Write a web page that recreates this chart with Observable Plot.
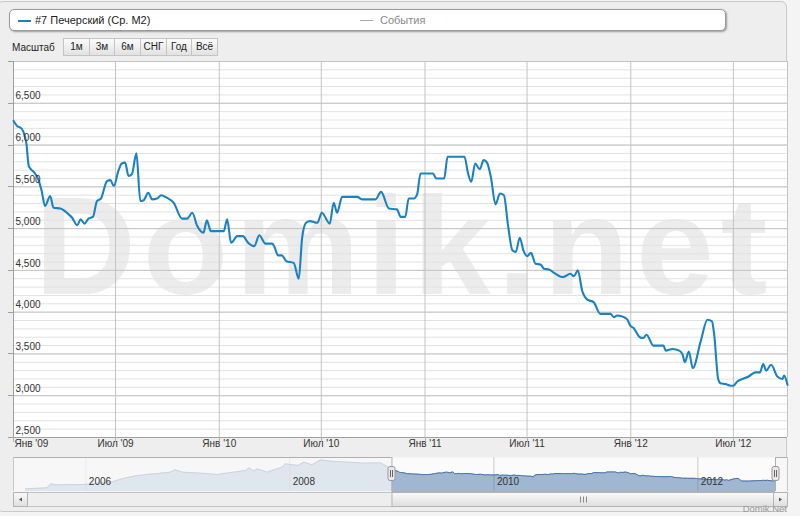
<!DOCTYPE html>
<html>
<head>
<meta charset="utf-8">
<script src="https://cdn.jsdelivr.net/npm/d3@7"></script>
<script src="https://cdn.jsdelivr.net/npm/@observablehq/plot@0.6"></script>
<style>
  html, body { margin: 0; padding: 0; background: #f4f4f4; }
  #wrap { position: relative; width: 800px; height: 516px; overflow: hidden; background: #f4f4f4;
          font-family: "Liberation Sans", Arial, sans-serif; color: #333; }
  #panel { position: absolute; left: -3px; top: 1px; width: 790px; height: 511px; background: #eeeeee;
           border: 1px solid #c9c9c9; border-radius: 6px; box-sizing: border-box; }
  #legend { position: absolute; left: 9px; top: 9px; width: 717px; height: 22px; background: #fff;
            border: 1px solid #9a9a9a; border-radius: 5px; box-sizing: border-box;
            box-shadow: 1px 1px 2px rgba(0,0,0,0.35); font-size: 11px; }
  .lg { position: absolute; top: 4px; white-space: nowrap; }
  .dash { position: absolute; top: 10px; height: 2px; }
  #zoomlbl { position: absolute; left: 12px; top: 42px; font-size: 10px; color: #222; }
  #buttons { position: absolute; left: 64px; top: 38px; display: flex; }
  .btn { height: 18px; box-sizing: border-box; border: 1px solid #c4c4c4; margin-left: -1px;
         background: linear-gradient(#fbfbfb, #e2e2e2); font-size: 10px; line-height: 16px;
         text-align: center; color: #222; }
  .abs { position: absolute; left: 0; }
  #credit { position: absolute; right: 13px; top: 503px; font-size: 9.5px; color: #9a9a9a; }
</style>
</head>
<body>
<div id="wrap">
  <div id="panel"></div>
  <div id="legend"></div>
  <div id="zoomlbl"></div>
  <div id="buttons"></div>
  <div id="main" class="abs" style="top:58px"></div>
  <div id="nav" class="abs" style="top:457px"></div>
  <div id="scroll" class="abs" style="top:491px"></div>
  <div id="credit">Domik.Net</div>
</div>
<script>
// ---------- data ----------
const seriesName = "#7 Печерский (Ср. М2)";
const eventsName = "События";
const zoomLabel = "Масштаб";
const zoomButtons = ["1м", "3м", "6м", "СНГ", "Год", "Всё"];
const watermark = "Domik.net";

const mainDates = [
"2009-01-01","2009-01-07","2009-01-15","2009-01-19","2009-01-24","2009-01-28","2009-02-01","2009-02-07","2009-02-14","2009-02-20",
"2009-02-26","2009-03-07","2009-03-13","2009-03-25","2009-04-09","2009-04-15","2009-04-24","2009-04-30","2009-05-07","2009-05-14",
"2009-05-22","2009-05-29","2009-06-05","2009-06-16","2009-06-22","2009-06-28","2009-07-06","2009-07-12","2009-07-18","2009-07-24",
"2009-07-30","2009-08-07","2009-08-14","2009-08-20","2009-08-28","2009-09-04","2009-09-13","2009-09-20","2009-09-30","2009-10-12",
"2009-10-27","2009-11-05","2009-11-14","2009-11-23","2009-12-04","2009-12-10","2009-12-17","2010-01-09","2010-01-15","2010-01-22",
"2010-02-02","2010-02-12","2010-02-20","2010-03-04","2010-03-13","2010-03-24","2010-04-05","2010-04-09","2010-04-15","2010-04-22",
"2010-04-30","2010-05-13","2010-05-22","2010-05-28","2010-06-04","2010-06-11","2010-06-24","2010-07-02","2010-07-16","2010-07-23",
"2010-07-29","2010-08-07","2010-09-03","2010-09-11","2010-10-05","2010-10-15","2010-10-29","2010-11-12","2010-11-19","2010-11-27",
"2010-12-03","2010-12-12","2010-12-18","2010-12-24","2011-01-15","2011-01-21","2011-02-04","2011-02-10","2011-03-12","2011-03-18",
"2011-03-24","2011-03-31","2011-04-08","2011-04-15","2011-04-21","2011-04-28","2011-05-06","2011-05-14","2011-05-21","2011-05-28",
"2011-06-05","2011-06-11","2011-06-18","2011-06-25","2011-07-01","2011-07-08","2011-07-16","2011-07-25","2011-07-31","2011-08-09",
"2011-08-18","2011-09-03","2011-09-16","2011-09-22","2011-09-29","2011-10-07","2011-10-16","2011-10-27","2011-11-08","2011-11-26",
"2011-12-02","2011-12-08","2011-12-20","2011-12-26","2011-12-31","2012-01-06","2012-01-17","2012-01-23","2012-01-29","2012-02-10",
"2012-02-28","2012-03-03","2012-03-15","2012-03-27","2012-04-02","2012-04-06","2012-04-13","2012-04-20","2012-05-04","2012-05-16",
"2012-05-24","2012-05-28","2012-06-04","2012-06-08","2012-06-17","2012-06-26","2012-07-01","2012-07-08","2012-07-17","2012-07-28",
"2012-08-09","2012-08-17","2012-08-23","2012-08-28","2012-09-06","2012-09-17","2012-09-26","2012-09-29","2012-10-05"];
const mainValues = [
6290,6230,6200,6150,6010,5750,5710,5670,5590,5450,
5270,5390,5250,5240,5170,5130,5040,5110,5060,5120,
5140,5330,5360,5570,5580,5510,5690,5780,5790,5630,
5650,5900,5330,5340,5430,5350,5360,5400,5370,5310,
5120,5120,5190,5030,4950,5100,4970,4970,5110,4830,
4910,4910,4840,4790,4920,4820,4820,4780,4680,4680,
4610,4590,4400,4890,5070,5090,5070,5190,5060,5310,
5190,5380,5380,5350,5350,5440,5240,5230,5140,5140,
5360,5360,5410,5660,5660,5600,5600,5860,5860,5670,
5560,5780,5710,5820,5790,5610,5290,5420,5400,5050,
4740,4720,4890,4730,4670,4710,4580,4570,4520,4510,
4470,4420,4460,4430,4500,4250,4150,4120,3980,3980,
3940,3960,3940,3910,3840,3810,3700,3690,3730,3600,
3600,3540,3560,3540,3490,3400,3530,3330,3650,3910,
3890,3730,3200,3150,3140,3120,3120,3170,3200,3230,
3280,3280,3380,3300,3370,3230,3200,3240,3130];

// navigator history before the selected range
const navDates = [
"2005-05-30","2005-08-15","2005-08-29","2005-09-16","2005-12-24","2006-04-01","2006-05-11","2006-06-21","2006-08-07","2006-09-27",
"2006-10-30","2006-11-17","2006-12-13","2007-02-17","2007-04-16","2007-06-14","2007-07-28","2007-08-08","2007-08-26","2007-09-06",
"2007-10-12","2007-11-17","2007-12-05","2007-12-16","2008-01-30","2008-02-21","2008-03-21","2008-04-20","2008-05-26","2008-07-27",
"2008-09-24","2008-11-21","2008-12-20"];
const navValues = [
800,1100,2300,2000,2100,2800,3800,4600,5100,5500,
5800,6500,5800,5500,5100,5800,6300,7100,6100,6800,
5800,6800,7300,8300,7800,8800,8000,9500,9100,8800,
8500,8600,7300];

const xDomain = ["2009-01-01", "2012-10-05"];
const yDomain = [2500, 7000];
const yMajor = [2500, 3000, 3500, 4000, 4500, 5000, 5500, 6000, 6500, 7000];
const yLabelTicks = [2500, 3000, 3500, 4000, 4500, 5000, 5500, 6000, 6500];
const xTicks = ["2009-01-01","2009-07-01","2010-01-01","2010-07-01","2011-01-01","2011-07-01","2012-01-01","2012-07-01"];
const xTickLabels = ["Янв '09","Июл '09","Янв '10","Июл '10","Янв '11","Июл '11","Янв '12","Июл '12"];
const navRange = ["2005-04-17", "2012-11-17"];
const navYDomain = [0, 10200];
const navYears = ["2006-01-01","2008-01-01","2010-01-01","2012-01-01"];
const navYearLabels = ["2006","2008","2010","2012"];
const selection = ["2009-01-01", "2012-10-05"];

// ---------- tables ----------
const D = s => new Date(s + "T00:00:00Z");
const series = mainDates.map((d, i) => ({date: D(d), value: mainValues[i]}));
const navSeries = navDates.map((d, i) => ({date: D(d), value: navValues[i]})).concat(series);
const yMinor = d3.range(yDomain[0], yDomain[1] + 1, 100);
const fmt = d3.format(",");

// ---------- header (legend + zoom buttons) ----------
const legend = document.getElementById("legend");
legend.innerHTML =
  `<div class="dash" style="left:8px;width:13px;background:#1b82c2"></div>` +
  `<div class="lg" style="left:25px;color:#222">${seriesName}</div>` +
  `<div class="dash" style="left:350px;width:13px;height:1px;top:10px;background:#aaa"></div>` +
  `<div class="lg" style="left:370px;color:#888">${eventsName}</div>`;
document.getElementById("zoomlbl").textContent = zoomLabel;
const btnWidths = [27, 26, 27, 27, 26, 27];
document.getElementById("buttons").innerHTML = zoomButtons
  .map((b, i) => `<div class="btn" style="width:${btnWidths[i]}px">${b}</div>`).join("");

// ---------- main chart ----------
const font = "Liberation Sans, Arial, sans-serif";
const main = Plot.plot({
  width: 800, height: 400,
  marginTop: 3, marginBottom: 21, marginLeft: 13, marginRight: 13,
  x: {type: "utc", domain: xDomain.map(D), axis: null},
  y: {domain: yDomain, axis: null},
  style: {background: "transparent", fontFamily: font, fontSize: "10px", color: "#333", overflow: "visible"},
  marks: [
    Plot.frame({fill: "white", stroke: null}),
    Plot.text([watermark], {frameAnchor: "middle", text: d => d, fontSize: 140, fontWeight: "bold",
      fill: "#ececec", fontFamily: font, dx: 4}),
    Plot.ruleY(yMinor, {stroke: "#e2e2e2", strokeWidth: 1}),
    Plot.ruleY(yMajor, {stroke: "#c4c4c4", strokeWidth: 1}),
    Plot.ruleX(xTicks.map(D), {stroke: "#c4c4c4", strokeWidth: 1}),
    Plot.ruleX([D(xDomain[0])], {stroke: "#a0a0a0"}),
    Plot.ruleX([D(xDomain[1])], {stroke: "#c4c4c4"}),
    Plot.ruleY([yDomain[0]], {stroke: "#a0a0a0"}),
    Plot.line(series, {x: "date", y: "value", stroke: "#1b82c2", strokeWidth: 2.1, curve: "monotone-x"}),
    Plot.text(yLabelTicks, {y: d => d, text: d => fmt(d), frameAnchor: "left", textAnchor: "start",
      dx: 2, dy: -7, fill: "#333", fontSize: 10}),
    Plot.text(xTicks.slice(0, 1).map(D), {x: d => d, text: () => xTickLabels[0], frameAnchor: "bottom",
      textAnchor: "start", dx: 1, dy: 9, fill: "#333", fontSize: 10}),
    Plot.text(xTicks.slice(1).map(D), {x: d => d, text: (d, i) => xTickLabels[i + 1], frameAnchor: "bottom",
      dy: 9, fill: "#333", fontSize: 10})
  ]
});
d3.select(main).selectAll("text").filter(function() { return this.textContent === watermark; })
  .attr("letter-spacing", "7px");
document.getElementById("main").appendChild(main);

// small tick marks outside the plot frame, positioned via the plot's own scales
const syM = main.scale("y"), sxM = main.scale("x");
const mainSvg = d3.select(main);
const yBottom = Math.round(syM.apply(yDomain[0]));
yMajor.forEach(v => {
  const y = Math.round(syM.apply(v)) + 0.5;
  mainSvg.append("line").attr("x1", 8).attr("x2", 13).attr("y1", y).attr("y2", y).attr("stroke", "#a0a0a0");
});
xTicks.forEach(t => {
  const x = Math.round(sxM.apply(D(t))) + 0.5;
  mainSvg.append("line").attr("x1", x).attr("x2", x).attr("y1", yBottom).attr("y2", yBottom + 5).attr("stroke", "#b0b0b0");
});

// ---------- navigator ----------
const navTop = navYDomain[1];
const nav = Plot.plot({
  width: 800, height: 35,
  marginTop: 0, marginBottom: 1, marginLeft: 13, marginRight: 13,
  x: {type: "utc", domain: navRange.map(D), axis: null},
  y: {domain: navYDomain, axis: null},
  style: {background: "transparent", fontFamily: font, fontSize: "10px", overflow: "visible"},
  marks: [
    Plot.frame({fill: "#fbfbfb", stroke: null}),
    Plot.ruleX(navYears.map(D), {stroke: "#c8c8c8"}),
    Plot.areaY(navSeries, {x: "date", y: "value", fill: "#4572A7", fillOpacity: 0.5}),
    Plot.line(navSeries, {x: "date", y: "value", stroke: "#4572A7", strokeWidth: 1}),
    Plot.rect([[navRange[0], selection[0]], [selection[1], navRange[1]]],
      {x1: d => D(d[0]), x2: d => D(d[1]), y1: navYDomain[0], y2: navTop, fill: "#f6f6f6", fillOpacity: 0.75}),
    Plot.text(navYears.map(D), {x: d => d, text: (d, i) => navYearLabels[i], frameAnchor: "bottom",
      textAnchor: "start", dx: 3, dy: -7, fill: "#333", fontSize: 10}),
    // outline around the selected range
    Plot.ruleY([navTop], {x1: D(navRange[0]), x2: D(selection[0]), stroke: "#b0b0b0"}),
    Plot.ruleY([navTop], {x1: D(selection[1]), x2: D(navRange[1]), stroke: "#b0b0b0"}),
    Plot.ruleY([navYDomain[0]], {x1: D(selection[0]), x2: D(selection[1]), stroke: "#b0b0b0"}),
    Plot.ruleX([D(selection[0]), D(selection[1])], {stroke: "#b0b0b0"}),
    Plot.ruleX([D(navRange[0]), D(navRange[1])], {stroke: "#c8c8c8"})
  ]
});
document.getElementById("nav").appendChild(nav);

// handles on the selection, positioned through the navigator's x scale
const sx = nav.scale("x");
const hx = selection.map(s => sx.apply(D(s)));
const navSvg = d3.select(nav);
hx.forEach(x => {
  const g = navSvg.append("g").attr("transform", `translate(${Math.round(x) + 0.5},9.5)`);
  g.append("rect").attr("x", -3.5).attr("y", 0).attr("width", 7).attr("height", 14).attr("rx", 2)
    .attr("fill", "#ebe7e8").attr("stroke", "#999");
  g.append("line").attr("x1", -1).attr("x2", -1).attr("y1", 3.5).attr("y2", 10.5).attr("stroke", "#666");
  g.append("line").attr("x1", 1).attr("x2", 1).attr("y1", 3.5).attr("y2", 10.5).attr("stroke", "#666");
});

// ---------- scrollbar ----------
const x0 = 13, x1 = 787;
const sb = d3.select("#scroll").append("svg").attr("width", 800).attr("height", 17);
const defs = sb.append("defs");
const grad = defs.append("linearGradient").attr("id", "sbg").attr("x1", 0).attr("x2", 0).attr("y1", 0).attr("y2", 1);
grad.append("stop").attr("offset", "0%").attr("stop-color", "#fafafa");
grad.append("stop").attr("offset", "100%").attr("stop-color", "#dedede");
sb.append("rect").attr("x", x0 + 0.5).attr("y", 1.5).attr("width", x1 - x0 - 1).attr("height", 14)
  .attr("fill", "#eeeeee").attr("stroke", "#c2c2c2");
sb.append("rect").attr("x", hx[0] + 0.5).attr("y", 1.5).attr("width", hx[1] - hx[0]).attr("height", 14)
  .attr("fill", "url(#sbg)").attr("stroke", "#b4b4b4");
const gc = (hx[0] + hx[1]) / 2;
[-3, 0, 3].forEach(o => sb.append("line").attr("x1", Math.round(gc + o) + 0.5).attr("x2", Math.round(gc + o) + 0.5)
  .attr("y1", 5.5).attr("y2", 11.5).attr("stroke", "#888"));
[[x0, "L"], [x1 - 14, "R"]].forEach(([bx, dir]) => {
  sb.append("rect").attr("x", bx + 0.5).attr("y", 1.5).attr("width", 14).attr("height", 14)
    .attr("fill", "url(#sbg)").attr("stroke", "#b4b4b4");
  const cx = bx + 7.5, cy = 8.5;
  const p = dir === "L" ? `M${cx + 1.5},${cy - 2}L${cx - 1.5},${cy}L${cx + 1.5},${cy + 2}Z`
                        : `M${cx - 1.5},${cy - 2}L${cx + 1.5},${cy}L${cx - 1.5},${cy + 2}Z`;
  sb.append("path").attr("d", p).attr("fill", "#555");
});
</script>
</body>
</html>
